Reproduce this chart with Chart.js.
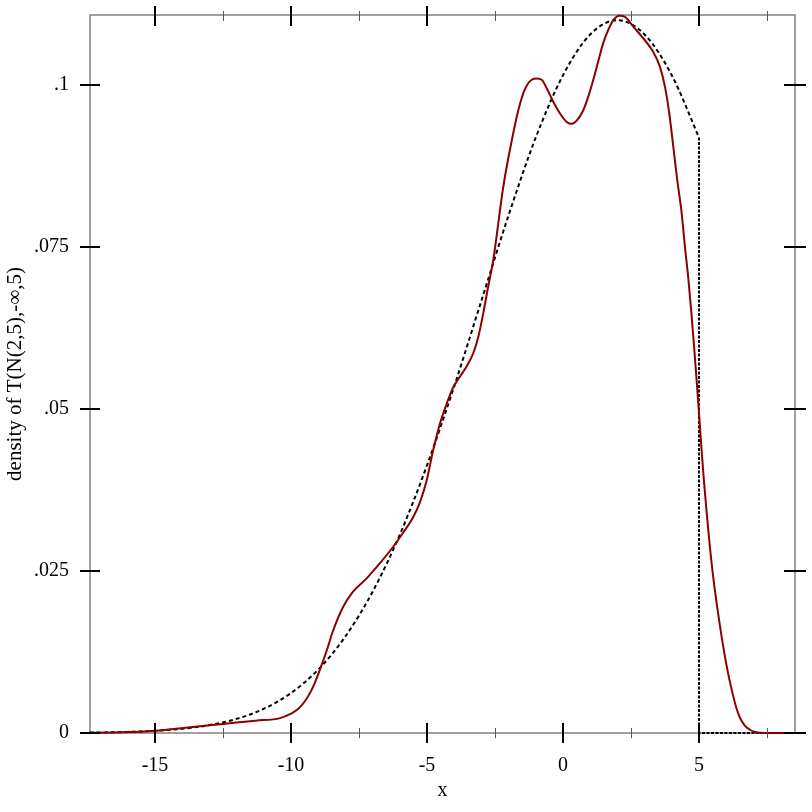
<!DOCTYPE html>
<html>
<head>
<meta charset="utf-8">
<script src="https://cdn.jsdelivr.net/npm/chart.js@4/dist/chart.umd.min.js"></script>
<style>
html,body{margin:0;padding:0;background:#fff;}
#wrap{width:812px;height:812px;}
</style>
</head>
<body>
<div id="wrap"><canvas id="c" width="812" height="812"></canvas></div>
<script>
// Sample density (estimate) — x and y
const sampleX = [-17.4,-16.2,-15.0,-13.7,-12.5,-11.3,-10.4,-10.04,-9.74,-9.49,-9.26,-9.08,-8.90,-8.68,-8.46,-8.09,-7.72,-7.21,-6.73,-6.25,-5.88,-5.51,-5.26,-5.01,-4.77,-4.52,-4.27,-4.03,-3.79,-3.54,-3.30,-3.11,-2.93,-2.75,-2.563,-2.195,-1.827,-1.643,-1.460,-1.335,-1.151,-0.967,-0.783,-0.599,-0.357,-0.110,0.136,0.320,0.504,0.746,0.930,1.114,1.298,1.482,1.665,1.849,2.070,2.279,2.585,2.952,3.320,3.566,3.750,3.908,4.055,4.202,4.364,4.485,4.614,4.721,4.820,4.912,5.000,5.088,5.180,5.283,5.401,5.537,5.702,5.893,6.121,6.434,6.765,7.43,8.53];
const sampleY = [0.00003,0.0001,0.00035,0.0009,0.0014,0.0019,0.0023,0.0029,0.0037,0.0049,0.0065,0.0082,0.0102,0.0128,0.0157,0.0194,0.0218,0.0239,0.0262,0.0287,0.0309,0.0333,0.0356,0.0390,0.0437,0.0478,0.0509,0.0534,0.0550,0.0566,0.0586,0.0612,0.0648,0.0689,0.0730,0.0843,0.0926,0.0961,0.0987,0.0999,0.1008,0.1010,0.1008,0.0995,0.0974,0.0956,0.0943,0.0940,0.0945,0.0961,0.0982,0.1008,0.1037,0.1065,0.1085,0.1100,0.1107,0.1105,0.1090,0.1072,0.1051,0.1028,0.0997,0.0956,0.0905,0.0853,0.0802,0.0750,0.0699,0.0648,0.0596,0.0545,0.0494,0.0441,0.0390,0.0340,0.0287,0.0236,0.0185,0.0133,0.0082,0.0031,0.0008,0.00001,0];

// Truncated normal density (dashed)
const trueX = [-17.4,-17,-16,-15,-14,-13,-12,-11,-10,-9,-8,-7,-6,-5,-4,-3,-2,-1,0,1,2,3,4,5];
const trueY = [0.00007,0.00008,0.00017,0.00034,0.00066,0.00122,0.00218,0.00374,0.00617,0.00978,0.0149,0.0218,0.0306,0.0413,0.0535,0.0667,0.0799,0.0919,0.1015,0.1078,0.1100,0.1078,0.1015,0.0919];
const dropX = [5, 5, 8.53];
const dropY = [0.0919, 0, 0];

const xMajorTicks = [-15,-10,-5,0,5];
const xMinorTicks = [-12.5,-7.5,-2.5,2.5,7.5];
const xTickLabels = ['-15','-10','-5','0','5'];
const yMajorTicks = [0,0.025,0.05,0.075,0.1];
const yTickLabels = ['0','.025','.05','.075','.1'];

const pts = (xs, ys) => xs.map((x, i) => ({x, y: ys[i]}));

const FONT = '"Liberation Serif", "DejaVu Serif", serif';

const tickPlugin = {
  id: 'crossTicks',
  beforeDatasetsDraw(chart) {
    const {ctx, chartArea: a} = chart;
    ctx.save();
    ctx.strokeStyle = '#808080';
    ctx.lineWidth = 1.5;
    ctx.strokeRect(a.left, a.top, a.right - a.left, a.bottom - a.top);
    ctx.restore();
  },
  afterDatasetsDraw(chart) {
    const {ctx, chartArea: a, scales: {x, y}} = chart;
    ctx.save();
    ctx.strokeStyle = '#000';
    ctx.lineWidth = 2;
    xMajorTicks.forEach(v => {
      const p = Math.round(x.getPixelForValue(v));
      ctx.beginPath();
      ctx.moveTo(p, a.bottom - 10); ctx.lineTo(p, a.bottom + 10);
      ctx.moveTo(p, a.top - 9); ctx.lineTo(p, a.top + 11);
      ctx.stroke();
    });
    ctx.lineWidth = 1;
    ctx.strokeStyle = '#555';
    xMinorTicks.forEach(v => {
      const p = Math.round(x.getPixelForValue(v)) + 0.5;
      ctx.beginPath();
      ctx.moveTo(p, a.bottom - 5); ctx.lineTo(p, a.bottom + 5);
      ctx.moveTo(p, a.top - 4); ctx.lineTo(p, a.top + 6);
      ctx.stroke();
    });
    ctx.strokeStyle = '#000';
    ctx.lineWidth = 2;
    yMajorTicks.forEach(v => {
      const p = Math.round(y.getPixelForValue(v));
      ctx.beginPath();
      ctx.moveTo(a.left - 10, p); ctx.lineTo(a.left + 10, p);
      ctx.moveTo(a.right - 11, p); ctx.lineTo(a.right + 11, p);
      ctx.stroke();
    });
    ctx.restore();
  }
};

new Chart(document.getElementById('c'), {
  type: 'line',
  data: {
    datasets: [
      {
        data: pts(sampleX, sampleY),
        borderColor: '#8b0000',
        borderWidth: 2,
        pointRadius: 0,
        cubicInterpolationMode: 'monotone',
        fill: false,
        clip: 3,
        order: 0
      },
      {
        data: pts(trueX, trueY),
        borderColor: '#000',
        borderWidth: 2,
        borderDash: [4, 3],
        pointRadius: 0,
        cubicInterpolationMode: 'monotone',
        fill: false,
        clip: 3,
        order: 1
      },
      {
        data: pts(dropX, dropY),
        borderColor: '#000',
        borderWidth: 2,
        borderDash: [3, 1.5],
        pointRadius: 0,
        tension: 0,
        fill: false,
        clip: 3,
        order: 2
      }
    ]
  },
  options: {
    responsive: false,
    animation: false,
    devicePixelRatio: 1,
    layout: {padding: {top: 15, right: 17, left: 0, bottom: 0}},
    plugins: {legend: {display: false}, tooltip: {enabled: false}},
    scales: {
      x: {
        type: 'linear',
        min: -17.39,
        max: 8.53,
        grid: {display: false},
        border: {display: false},
        afterBuildTicks: s => { s.ticks = xMajorTicks.map(v => ({value: v})); },
        afterFit: s => { s.height = 79; s.paddingLeft = 0; s.paddingRight = 0; },
        ticks: {
          autoSkip: false,
          maxRotation: 0,
          padding: 13,
          color: '#000',
          font: {family: FONT, size: 20},
          callback: (v) => xTickLabels[xMajorTicks.indexOf(v)] ?? ''
        },
        title: {
          display: true,
          text: 'x',
          color: '#000',
          font: {family: FONT, size: 20},
          padding: {top: 0, bottom: 9}
        }
      },
      y: {
        type: 'linear',
        min: 0,
        max: 0.1108,
        grid: {display: false},
        border: {display: false},
        afterBuildTicks: s => { s.ticks = yMajorTicks.map(v => ({value: v})); },
        afterFit: s => { s.width = 90; s.paddingTop = 0; s.paddingBottom = 0; },
        ticks: {
          autoSkip: false,
          padding: 13,
          color: '#000',
          font: {family: FONT, size: 20},
          callback: (v) => { const i = yMajorTicks.findIndex(t => Math.abs(t - v) < 1e-9); return i >= 0 ? yTickLabels[i] : ''; }
        },
        title: {
          display: true,
          text: 'density of T(N(2,5),-∞,5)',
          color: '#000',
          font: {family: FONT, size: 21},
          padding: {top: 3, bottom: 0}
        }
      }
    }
  },
  plugins: [tickPlugin]
});
</script>
</body>
</html>
